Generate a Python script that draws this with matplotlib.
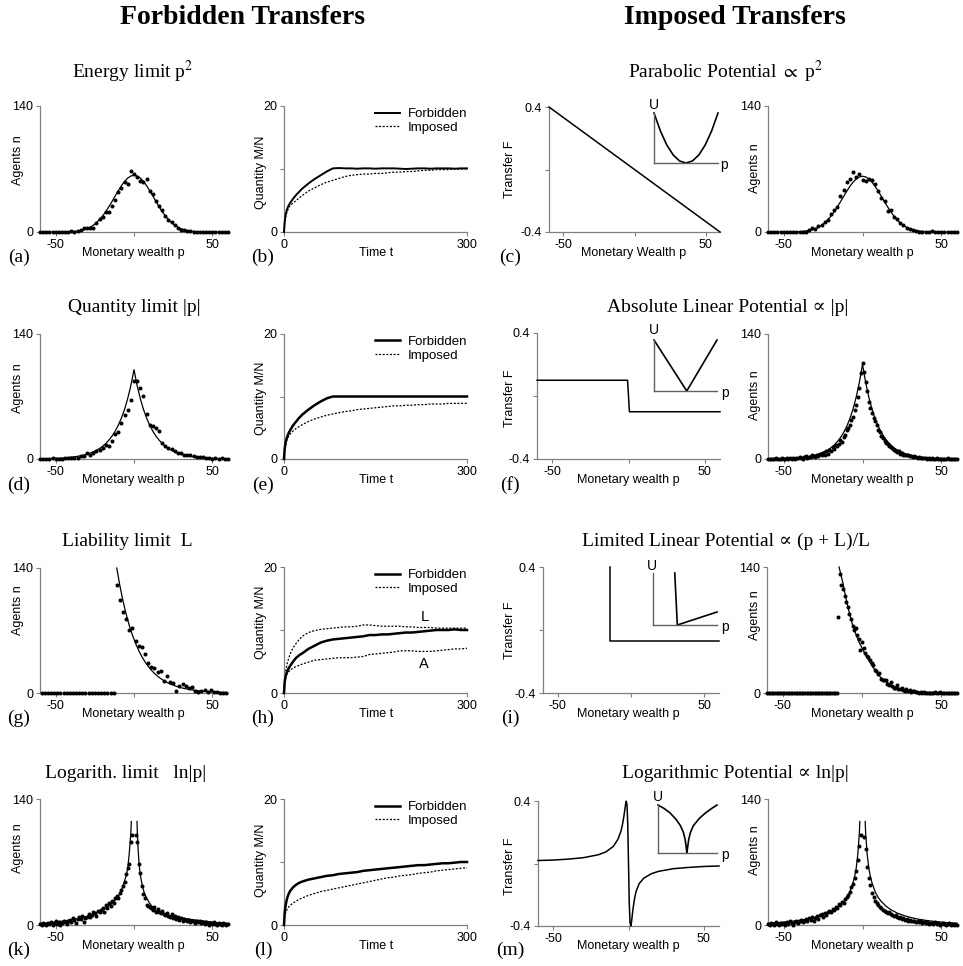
import numpy as np
import matplotlib
matplotlib.use('Agg')
import matplotlib.pyplot as plt
from matplotlib.lines import Line2D

# ---------------- DATA ----------------
p2 = np.arange(-60, 61, 2)
p_half = np.arange(0, 61, 2)

a_dots = [0,0,0,0,0,0,0,0,0,0,1,
          0.5,1,2,5,5,4,5,10,14,17,
          22,22,29,36,44,49,56,53,68,65,
          61,57,56,59,46,42,35,29,24,18,
          13,11,8,5,2,2,1,1,0,0,
          0,0,0,0,0,0,0,0,0,0]
a_curve_half = [63,62.2,59.9,56.3,51.5,46.0,40.1,34.0,28.2,22.7,17.9,13.8,10.3,7.5,5.3,3.7,2.5,
                1.7,1.1,0.7,0.4,0.25,0.14,0.08,0.05,0,0,0,0,0,0]

c_dots = [0,0,0,0,0,0,0,0,0,0,0,0,
          0.5,2,4,3,7,8,11,13,20,25,
          28,40,47,56,59,67,61,64,58,57,
          59,58,53,46,38,35,23,25,17,14,
          10,8,5,3,2,1,0.5,0,0,0,
          1.5,0,0,0,0,0,0,0,0]
c_curve_half = [62,61.2,58.9,55.4,50.7,45.3,39.5,33.5,27.8,22.4,17.6,13.6,10.1,7.4,5.2,3.6,2.5,
                1.7,1.1,0.7,0.4,0.25,0.14,0.08,0.05,0,0,0,0,0,0]

d_dots = [0,0,0,0,1,0,0,0.5,1,1,
          1,1,1.5,3,3.7,7,5,6.7,8.6,10.4,
          12,16,14,20,28,30,40,49,55,66,
          87,
          87,79,71,50,38,37,35,31,18,15,
          12,11,8.6,7,6.7,4,4.5,4,3,2.5,
          2,2,1,1,0.5,1,0.5,1.5,0.5,0]
d_curve_half = [100,82.3,67.8,55.8,46.0,37.9,31.2,25.7,21.2,17.4,14.3,11.8,9.7,8.0,6.6,5.4,4.5,
                3.7,3.0,2.5,2.1,1.7,1.4,1.1,0.9,0.8,0.6,0.5,0.4,0.35,0.3]

f_dots = [0,0,0.5,0,0,1,0,0.5,0,1,0,0.5,1,0,1.5,0.5,1,0,1,1.5,
          2,1,0.5,2,3,1,2.5,2,4,3,
          2,5,3,6,4,7,5,9,6,10,
          9,13,11,16,14,17,21,19,25,27,
          32,35,38,44,47,55,60,70,80,96,
          108,
          98,86,76,64,57,52,46,42,38,32,
          30,26,24,20,18,17,14,13,12,10,
          9,8,9,6,7,5,5,4,4,3,
          3,2,3,2,1.5,2,1,1.5,1,1,
          0.5,1,0,1,0.5,0,1,0,0.5,0,0.5,0,0,1,0,0,0.5,0,0,0]
f_curve_half = [106,85.7,69.3,56.0,45.3,36.6,29.6,23.9,19.3,15.6,12.6,10.2,8.5,6.8,5.5,4.5,3.6,
                2.9,2.4,1.9,1.6,1.3,1.0,0.8,0.7,0.5,0.4,0.35,0.3,0.2,0.2]

g_p = np.arange(-59, 60, 2)
g_dots = [0]*24 + [121,104,91,83,71,73,58,53,52,44,34,29,28,23,25,13,18.7,12,11,2.6,
                   8,10,8,5.6,6.3,1.9,0.7,2.6,3.7,0.7,3,0.7,1,0,0.5,0]
g_curve_p = np.arange(-11, 60, 2)
g_curve = [140,120,102.9,88.2,75.6,64.8,55.6,47.6,40.8,35,30,25.7,22,18.9,16.2,13.9,11.9,10.2,
           8.8,7.5,6.4,5.5,4.7,4.1,3.5,3,2.6,2.2,1.9,1.6,1.4,1.2,1,0.9,0.7,0.6]

i_dots = [0]*45 + [85,132,120,116,108,101,96,88,82,74,70,72,64,60,48,57,50,45,41,40,37,33,31,26,
                   24,21,22,16,15,14,15,10,9,12,8,6,5.5,9,5,4,6,3,2,4,2,3,1,2,2.5,1,1.5,0.5,1,
                   0.5,1,0.5,0,0.5,0,0.5,0,1,0,0.5,1,0,0,0.5,0,0,0,0.5,0,0,0,0]
i_curve_p = [-14.5,-12,-10,-8,-6,-4,-2,0,2,4,6,8,10,12,14,16,18,20,22,25,28,32,36,40,45,50,55,60]
i_curve = [140,122,104,89,76,66,57,50,43,37,31,26,21,17,14,11.5,9.2,7.4,6,4.3,3,2,1.3,0.9,0.5,
           0.3,0.2,0.1]

k_dots_left = [1,0,2,1,0,2,1,3,0,2,
               4,1,3,0,2,5,3,1,4,6,
               3,8,6,2,7,9,7,10,3,8,
               9,12,9,11,15,13,10,16,14,17,
               19,15,22,19,25,21,27,24,30,32,
               30,36,39,43,48,57,63,68,92,100]
k_dots_right = [100,92,68,58,43,35,30,22,21,20,
                19,17,20,15,18,14,13,16,12,11,
                13,10,9,12,8,10,7,9,6,8,
                5,7,6,4,6,3,5,4,2,4,
                3,5,2,3,1,3,2,0,2,1,
                3,1,0,2,1,0,2,1,0,1]
k_curve_left_p = [-60,-55,-50,-45,-40,-35,-30,-26,-22,-18,-15,-12,-10,-8,-6,-5,-4,-3,-2.5,-2,-1.7]
k_curve_left = [1.9,2.4,3.3,4.5,5.8,7.5,9.6,12,14.8,18.8,22.5,27.8,32,38.5,49,55,63,80,92,103,115]
k_curve_right_p = [1.9,2.2,2.6,3.2,4,4.6,5.5,6.7,8,10,13,17,21.5,26,32,37,42.5,48,53,60]
k_curve_right = [115,100,85,68.5,56,50,42,35,30,24,17.5,13.5,11,9.2,7.4,6,4.8,3.7,2.6,1.9]

m_dots_left = [1,0,2,1,0,3,1,0,2,1,
               2,0,3,1,4,2,0,3,5,2,
               4,6,3,5,7,4,8,6,9,5,
               8,10,7,11,12,9,13,11,14,16,
               15,18,17,20,19,23,22,26,24,29,
               31,33,37,42,46,52,60,72,88,100]
m_dots_right = [98,85,65,52,44,36,31,27,24,22,
                20,19,17,16,15,13,14,12,11,10,
                11,9,8,9,7,8,6,7,5,6,
                5,4,5,3,4,3,4,2,3,2,
                3,1,2,2,1,3,1,2,0,1,
                2,1,0,1,2,0,1,0,1,0]
m_curve_left_p = [-60,-55,-50,-45,-40,-35,-30,-26,-22,-18,-15,-12,-10,-8,-6,-5,-4,-3,-2.5,-2,-1.7]
m_curve_left = [2.0,2.5,3.2,4.1,5.2,6.6,8.6,10.7,13.3,17.0,20.8,26,30.5,37,47,54,63,78,90,102,115]
m_curve_right_p = [1.7,2,2.5,3,4,5,6,8,10,12,15,18,22,26,30,35,40,45,50,55,60]
m_curve_right = [115,102,90,78,63,54,47,37,30.5,26,20.8,17,13.3,10.7,8.6,6.6,5.2,4.1,3.2,2.5,2.0]

# time series
t = [0,1,2,3,5,7,10,15,20,25,30,40,50,60,70,80,90,100,110,120,130,140,150,160,170,180,190,
     200,210,220,230,240,250,260,270,280,290,300]
b_forb = [0,1.5,2.3,2.9,3.6,4.1,4.6,5.3,5.9,6.4,6.9,7.7,8.4,9.0,9.6,10.1,10.15,10.1,10.1,10.05,
          10.1,10.1,10.05,10.1,10.1,10.1,10.05,10.0,10.05,10.1,10.1,10.05,10.1,10.1,10.1,10.05,10.1,10.1]
b_imp = [0,1.3,2.0,2.5,3.2,3.7,4.2,4.6,5.0,5.4,5.8,6.5,7.0,7.5,7.9,8.2,8.5,8.8,9.0,9.1,9.2,9.2,
         9.3,9.3,9.4,9.5,9.5,9.6,9.6,9.7,9.8,9.8,9.9,9.9,9.9,10.0,10.0,10.0]
e_forb = [0,1.5,2.2,2.8,3.5,4.0,4.6,5.4,6.0,6.6,7.1,7.9,8.6,9.2,9.7,10] + [10]*22
e_imp = [0,1.3,2.0,2.5,3.1,3.5,4.0,4.5,4.9,5.2,5.5,6.0,6.4,6.7,7.0,7.2,7.4,7.6,7.7,7.9,8.0,8.1,
         8.2,8.3,8.4,8.5,8.5,8.6,8.6,8.7,8.7,8.8,8.8,8.8,8.9,8.9,8.9,8.9]
h_forb = [0,1.6,2.3,2.8,3.4,3.8,4.3,5.0,5.6,6.0,6.3,7.0,7.5,8.0,8.3,8.5,8.6,8.7,8.8,8.9,9.0,9.2,
          9.2,9.3,9.3,9.4,9.5,9.6,9.6,9.7,9.8,9.9,10.0,10.0,10.0,10.1,10.0,10.0]
h_L = [0,2.0,2.9,3.6,4.6,5.3,6.2,7.2,7.9,8.5,9.0,9.6,9.9,10.1,10.2,10.3,10.4,10.5,10.5,10.6,10.8,
       10.8,10.7,10.6,10.6,10.6,10.6,10.5,10.5,10.4,10.4,10.4,10.3,10.3,10.3,10.3,10.3,10.3]
h_A = [0,1.4,2.0,2.6,3.0,3.3,3.6,4.0,4.2,4.4,4.6,4.9,5.2,5.3,5.4,5.5,5.6,5.6,5.6,5.7,5.8,6.1,
       6.2,6.3,6.4,6.5,6.7,6.7,6.7,6.6,6.6,6.6,6.7,6.8,6.9,7.0,7.0,7.1]
l_forb = [0,1.8,2.7,3.3,4.2,4.8,5.4,6.0,6.4,6.7,6.9,7.2,7.4,7.6,7.8,7.9,8.1,8.2,8.3,8.4,8.6,8.7,
          8.8,8.9,9.0,9.1,9.2,9.3,9.4,9.5,9.5,9.6,9.7,9.8,9.8,9.9,10.0,10.0]
l_imp = [0,1.2,1.7,2.0,2.5,2.8,3.1,3.5,3.8,4.1,4.3,4.7,5.0,5.3,5.5,5.7,5.9,6.1,6.3,6.5,6.7,6.9,
         7.1,7.3,7.5,7.6,7.8,7.9,8.0,8.2,8.3,8.4,8.6,8.7,8.8,8.9,9.0,9.1]

# transfer functions
c_F_p = [-60, 60]
c_F = [0.4, -0.4]
f_F_p = [-60, -0.6, 0.6, 60]
f_F = [0.1, 0.1, -0.1, -0.1]
i_F_p = [-14, -14, 60]
i_F = [0.4, -0.07, -0.07]
m_F_p = [-60,-50,-40,-30,-20,-15,-10,-7,-5,-4,-3,-2.5,-2,-1.5,-1,-0.5,0,0.5,1,1.5,2,2.5,3,4,5,7,
         10,15,20,30,40,50,60]
m_F = [0.019,0.022,0.028,0.037,0.056,0.074,0.110,0.155,0.207,0.249,0.306,0.34,0.375,0.399,0.378,
       0.253,0,-0.253,-0.378,-0.4,-0.375,-0.33,-0.29,-0.225,-0.18,-0.13,-0.095,-0.066,-0.05,-0.033,
       -0.025,-0.019,-0.016]

# inset potential shapes
ins_c_x = [0,0.1,0.2,0.3,0.4,0.5,0.6,0.7,0.8,0.9,1.0]
ins_c_u = [1,0.64,0.36,0.16,0.04,0,0.04,0.16,0.36,0.64,1]
ins_f_x = [0, 0.52, 1.0]
ins_f_u = [1, 0, 1]
ins_i_x = [0.34, 0.38, 1.0]
ins_i_u = [1.0, 0.0, 0.25]
ins_m_x = [0,0.1,0.2,0.3,0.38,0.43,0.46,0.48,0.49,0.5,0.52,0.55,0.6,0.7,0.8,0.9,1.0]
ins_m_u = [1.0,0.93,0.84,0.71,0.57,0.43,0.28,0.1,0,0.1,0.28,0.43,0.57,0.72,0.83,0.92,1.0]

# ---------------- FIGURE ----------------
W, H = 963, 966
fig = plt.figure(figsize=(W/100, H/100), dpi=100)
SANS = ['Liberation Sans', 'DejaVu Sans']
SERIF = ['Liberation Serif', 'DejaVu Serif']
plt.rcParams['font.family'] = SANS
plt.rcParams['mathtext.fontset'] = 'stix'

AXC = '#808080'

def add_ax(l, t_, r, b):
    return fig.add_axes([l/W, 1-b/H, (r-l)/W, (b-t_)/H])

def ftxt(x, y, s, **kw):
    kw.setdefault('ha', 'center')
    kw.setdefault('va', 'center')
    fig.text(x/W, 1-y/H, s, **kw)

def style(ax, xlim, ylim, xt, xtl, yt, ytl, xminor=None, yminor=None):
    ax.set_xlim(xlim); ax.set_ylim(ylim)
    for s in ['top', 'right']:
        ax.spines[s].set_visible(False)
    for s in ['left', 'bottom']:
        ax.spines[s].set_color(AXC); ax.spines[s].set_linewidth(0.9)
    ax.set_xticks(xt); ax.set_xticklabels(xtl)
    ax.set_yticks(yt); ax.set_yticklabels(ytl)
    if xminor is not None:
        ax.set_xticks(xminor, minor=True)
    if yminor is not None:
        ax.set_yticks(yminor, minor=True)
    ax.tick_params(which='both', direction='out', color=AXC, width=0.8, length=3,
                   labelsize=9, pad=2)
    ax.patch.set_alpha(0)

def agents_ax(box):
    ax = add_ax(*box)
    style(ax, (-60, 60), (0, 140), [-50, 50], ['-50', '50'], [0, 140], ['0', '140'], xminor=[0])
    return ax

def dots(ax, x, y):
    ax.plot(x, y, 'o', color='black', ms=2.9, mew=0, clip_on=False, zorder=3)

def curve(ax, x, y, **kw):
    ax.plot(x, y, color='black', lw=0.9, clip_on=False, zorder=2, **kw)

def mirror(half):
    half = np.asarray(half, float)
    return np.concatenate([half[::-1], half[1:]])

p_full = np.concatenate([-p_half[::-1], p_half[1:]])

def time_ax(box, forb, imps, lw_f=1.6):
    ax = add_ax(*box)
    style(ax, (0, 300), (0, 20), [0, 300], ['0', '300'], [0, 20], ['0', '20'], yminor=[10])
    ax.plot(t, forb, color='black', lw=lw_f, clip_on=False, zorder=3)
    for im in imps:
        ax.plot(t, im, color='black', lw=0.9, ls=(0, (1.6, 1.3)), clip_on=False, zorder=2)
    h = [Line2D([], [], color='black', lw=lw_f), Line2D([], [], color='black', lw=0.9, ls=(0, (1.6, 1.3)))]
    ax.legend(h, ['Forbidden', 'Imposed'], loc='upper right', bbox_to_anchor=(1.0, 0.985),
              frameon=False, fontsize=9.5, handlelength=1.9, handletextpad=0.6,
              labelspacing=0.1, borderpad=0, borderaxespad=0)
    return ax

def F_ax(box, x, y):
    ax = add_ax(*box)
    style(ax, (-60, 60), (-0.4, 0.4), [-50, 50], ['-50', '50'], [-0.4, 0.4], ['-0.4', '0.4'],
          xminor=[0], yminor=[0])
    ax.plot(x, y, color='black', lw=1.1, clip_on=False, zorder=3)
    return ax

def inset(box, x, u, ulab, plab):
    ax = add_ax(*box)
    ax.set_xlim(0, 1); ax.set_ylim(0, 1)
    for s in ['top', 'right']:
        ax.spines[s].set_visible(False)
    for s in ['left', 'bottom']:
        ax.spines[s].set_color('#606060'); ax.spines[s].set_linewidth(1.0)
    ax.set_xticks([]); ax.set_yticks([])
    ax.patch.set_alpha(0)
    ax.plot(x, u, color='black', lw=1.2, clip_on=False)
    ftxt(ulab[0], ulab[1], 'U', fontsize=10)
    ftxt(plab[0], plab[1], 'p', fontsize=10)

# Row geometry (left, top, right, bottom) in px
col1 = [(40,106,228,232), (40,334,228,459), (40,568,228,693), (40,799,228,925)]
col2 = [(284,106,467,232), (284,334,467,459), (284,567,467,693), (284,799,467,925)]
col3 = [(549,107,720,232), (537,333,720,459), (543,567,719,693), (538,801,719,926)]
col4 = [(768,106,957,232), (768,334,957,459), (767,567,957,693), (768,799,957,925)]

# Row 1
ax = agents_ax(col1[0]); dots(ax, p2, a_dots); curve(ax, p_full, mirror(a_curve_half))
time_ax(col2[0], b_forb, [b_imp], lw_f=1.4)
F_ax(col3[0], c_F_p, c_F)
inset((654,113,718,163), ins_c_x, ins_c_u, (654,105), (724,165))
ax = agents_ax(col4[0]); dots(ax, p2, c_dots); curve(ax, p_full, mirror(c_curve_half))

# Row 2
ax = agents_ax(col1[1]); dots(ax, p2, d_dots); curve(ax, p_full, mirror(d_curve_half))
time_ax(col2[1], e_forb, [e_imp], lw_f=1.8)
F_ax(col3[1], f_F_p, f_F)
inset((654,340,717,391), ins_f_x, ins_f_u, (654,330), (725,393))
ax = agents_ax(col4[1]); dots(ax, np.arange(-60, 61), f_dots); curve(ax, p_full, mirror(f_curve_half))

# Row 3
ax = agents_ax(col1[2]); dots(ax, g_p, g_dots); curve(ax, g_curve_p, g_curve)
ax = time_ax(col2[2], h_forb, [h_L, h_A], lw_f=1.8)
F_ax(col3[2], i_F_p, i_F)
inset((653,573,717,625), ins_i_x, ins_i_u, (652,566), (725,627))
ax = agents_ax(col4[2]); dots(ax, np.arange(-60, 61), i_dots); curve(ax, i_curve_p, i_curve)

# Row 4
ax = agents_ax(col1[3])
dots(ax, np.arange(-60, 0), k_dots_left); dots(ax, np.arange(1, 61), k_dots_right)
curve(ax, k_curve_left_p, k_curve_left); curve(ax, k_curve_right_p, k_curve_right)
time_ax(col2[3], l_forb, [l_imp], lw_f=1.8)
F_ax(col3[3], m_F_p, m_F)
inset((658,805,717,853), ins_m_x, ins_m_u, (658,797), (725,855))
ax = agents_ax(col4[3])
dots(ax, np.arange(-60, 0), m_dots_left); dots(ax, np.arange(1, 61), m_dots_right)
curve(ax, m_curve_left_p, m_curve_left); curve(ax, m_curve_right_p, m_curve_right)

# ---------------- TEXT ----------------
ftxt(243, 18, 'Forbidden Transfers', family=SERIF, weight='bold', fontsize=20)
ftxt(735, 18, 'Imposed Transfers', family=SERIF, weight='bold', fontsize=20)

row_titles = [
    (133, 72, 'Energy limit p$^{\\mathrm{2}}$'),
    (726, 72, 'Parabolic Potential $\\propto$ p$^{\\mathrm{2}}$'),
    (134, 307, 'Quantity limit |p|'), (728, 307, 'Absolute Linear Potential ∝ |p|'),
    (127, 541, 'Liability limit  L'), (726, 541, 'Limited Linear Potential ∝ (p + L)/L'),
    (126, 773, 'Logarith. limit   ln|p|'), (735, 773, 'Logarithmic Potential ∝ ln|p|'),
]
for x, y, s in row_titles:
    ftxt(x, y, s, family=SERIF, fontsize=14)

letters = [('(a)', '(b)', '(c)'), ('(d)', '(e)', '(f)'), ('(g)', '(h)', '(i)'), ('(k)', '(l)', '(m)')]
letter_y = [257, 485, 718, 950]
xlab_y = [253, 480, 714, 946]
for r in range(4):
    for c, lx in enumerate([19, 263, 510]):
        ftxt(lx, letter_y[r], letters[r][c], family=SERIF, fontsize=14)
    ftxt(133, xlab_y[r], 'Monetary wealth p', fontsize=9)
    ftxt(376, xlab_y[r], 'Time t', fontsize=9)
    ftxt(634 if r == 0 else 628, xlab_y[r], 'Monetary Wealth p' if r == 0 else 'Monetary wealth p', fontsize=9)
    ftxt(862, xlab_y[r], 'Monetary wealth p', fontsize=9)

ylab = {18: ('Agents n', [160, 388, 610, 848]),
        261: ('Quantity M/N', [172, 398, 622, 860]),
        510: ('Transfer F', [169, 398, 630, 866]),
        755: ('Agents n', [168, 395, 615, 850])}
for x, (s, ys) in ylab.items():
    for y in ys:
        ftxt(x, y, s, fontsize=9, rotation=90)

ftxt(425, 617, 'L', fontsize=10.5)
ftxt(424, 664, 'A', fontsize=10.5)

fig.savefig('out.png', dpi=100)
